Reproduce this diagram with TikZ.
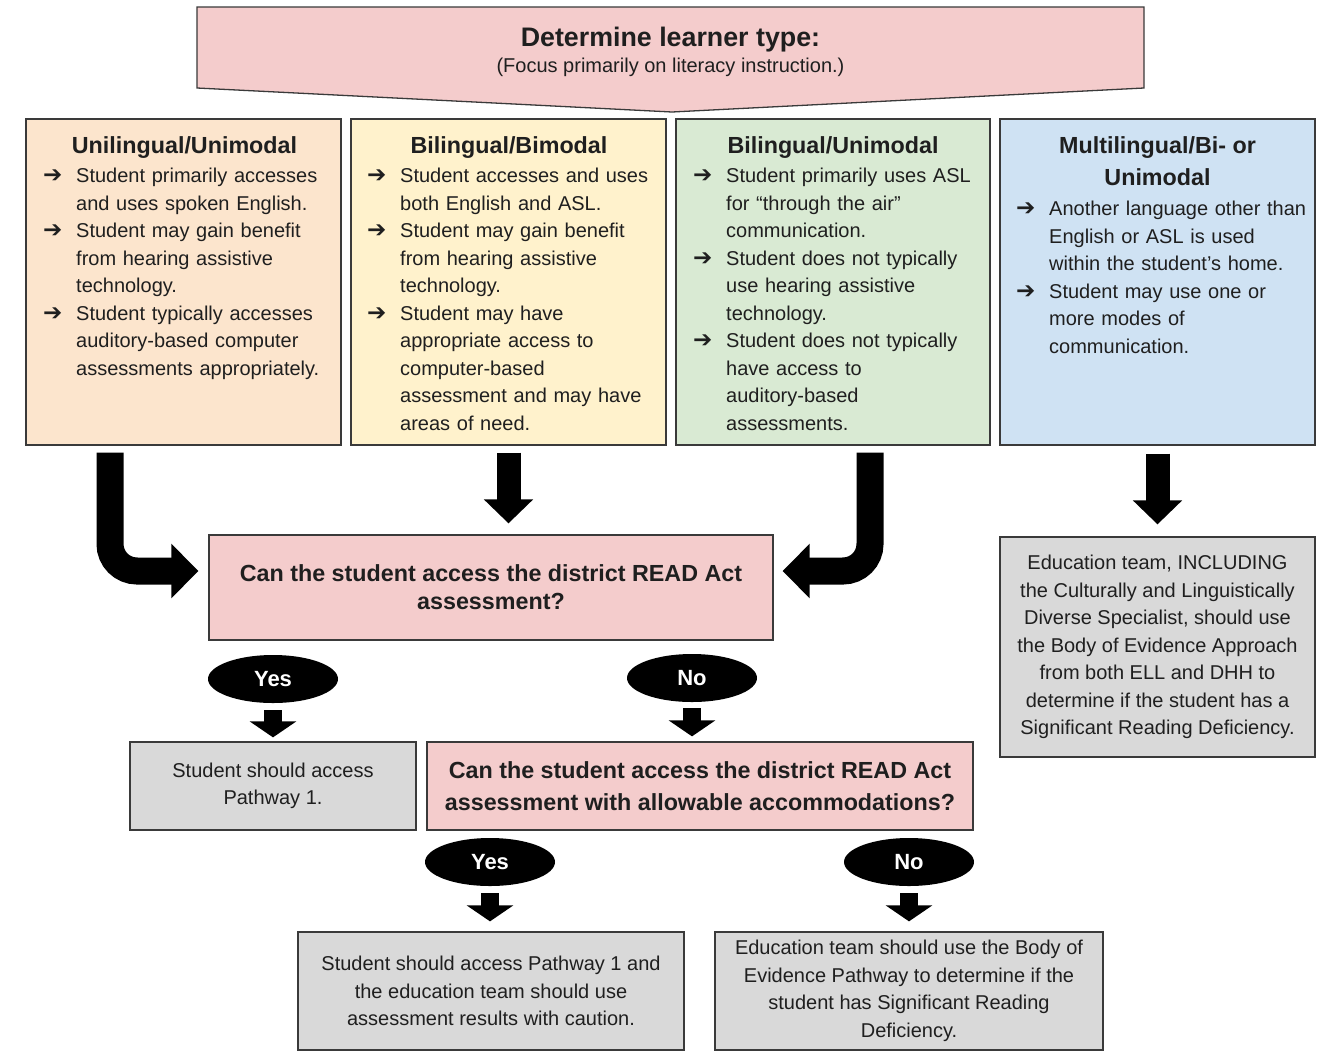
\documentclass[tikz,border=0pt]{standalone}
\usepackage{fontspec}
\setmainfont{Liberation Sans}
\newfontfamily\arrowfont{DejaVu Sans}
\usetikzlibrary{shapes.geometric,arrows.meta,calc}
\definecolor{cOrange}{HTML}{FCE5CD}
\definecolor{cYellow}{HTML}{FFF2CC}
\definecolor{cGreen}{HTML}{D9EAD3}
\definecolor{cBlue}{HTML}{CFE2F3}
\definecolor{cPink}{HTML}{F4CCCC}
\definecolor{cGray}{HTML}{D9D9D9}
\definecolor{cLine}{HTML}{3A3A3A}
\definecolor{cText}{HTML}{1F1F1F}
\newcommand\bodyfont{\fontsize{20}{27.5}\selectfont}
\newcommand\titlefont{\bfseries\fontsize{23.3}{32}\selectfont}
\newcommand\bitem[1]{\par\noindent\hangindent=33pt\hangafter=1\makebox[33pt][l]{\strut{\arrowfont\fontsize{23}{24}\selectfont ➔}}#1}
\tikzset{
  box/.style={draw=cLine, line width=1.3pt, rectangle, inner sep=0pt, text=cText},
  boxtitle/.style={anchor=base, inner sep=0pt, font=\titlefont, text=cText, align=center},
  itemlist/.style={anchor=north west, inner sep=0pt, text width=300pt, font=\bodyfont, text=cText},
  oval/.style={ellipse, fill=black, text=white, minimum width=130pt, minimum height=48pt, inner sep=0pt, font=\bfseries\fontsize{22}{26}\selectfont},
  bigarrow/.style={draw=black, line width=27pt, rounded corners=27pt, -{Triangle[width=53pt,length=27pt]}},
  straightarrow/.style={draw=black, line width=24pt, -{Triangle[width=48pt,length=24pt]}},
  smallarrow/.style={draw=black, line width=18pt, -{Triangle[width=46pt,length=16pt]}}
}
\begin{document}
\begin{tikzpicture}[x=1pt,y=-1pt]
\useasboundingbox[fill=white] (0,0) rectangle (1337,1063);

% banner
\draw[fill=cPink, draw=cLine, line width=1.3pt] (197,7) -- (1144,7) -- (1144,88) -- (672,112) -- (197,88) -- cycle;
\node[anchor=base, inner sep=0pt, text=cText, font=\bfseries\fontsize{26.8}{30}\selectfont] (bantitle) at (670.5,46) {Determine learner type:};
\node[anchor=base, inner sep=0pt, text=cText, font=\fontsize{20}{24}\selectfont] (bansub) at (670.5,72) {(Focus primarily on literacy instruction.)};

% four learner boxes
\node[box, fill=cOrange, minimum width=315pt, minimum height=326pt] (u1) at (183.5,282) {};
\node[box, fill=cYellow, minimum width=315pt, minimum height=326pt] (bb) at (508.5,282) {};
\node[box, fill=cGreen, minimum width=314pt, minimum height=326pt] (bu) at (833,282) {};
\node[box, fill=cBlue, minimum width=315pt, minimum height=326pt] (mu) at (1157.5,282) {};

\node[boxtitle] (u1t) at (184.5,153) {Unilingual/Unimodal};
\node[boxtitle] (bbt) at (509,153) {Bilingual/Bimodal};
\node[boxtitle] (but) at (833,153) {Bilingual/Unimodal};
\node[boxtitle] (mut) at (1157.5,185) {Multilingual/Bi- or\\Unimodal};

\node[itemlist] (u1l) at (43,155) {\raggedright
\bitem{Student primarily accesses\newline and uses spoken English.}%
\bitem{Student may gain benefit\newline from hearing assistive\newline technology.}%
\bitem{Student typically accesses\newline auditory-based computer\newline assessments appropriately.}\par};

\node[itemlist] (bbl) at (367,155) {\raggedright
\bitem{Student accesses and uses\newline both English and ASL.}%
\bitem{Student may gain benefit\newline from hearing assistive\newline technology.}%
\bitem{Student may have\newline appropriate access to\newline computer-based\newline assessment and may have\newline areas of need.}\par};

\node[itemlist] (bul) at (693,155) {\raggedright
\bitem{Student primarily uses ASL\newline for “through the air”\newline communication.}%
\bitem{Student does not typically\newline use hearing assistive\newline technology.}%
\bitem{Student does not typically\newline have access to\newline auditory-based\newline assessments.}\par};

\node[itemlist] (mul) at (1016,188) {\raggedright
\bitem{Another language other than\newline English or ASL is used\newline within the student’s home.}%
\bitem{Student may use one or\newline more modes of\newline communication.}\par};

% question and outcome boxes
\node[box, fill=cPink, minimum width=564pt, minimum height=105pt, align=center, font=\bfseries\fontsize{23.3}{28}\selectfont] (q1) at (491,587.5) {Can the student access the district READ Act\\assessment?};
\node[box, fill=cGray, minimum width=315pt, minimum height=220pt, align=center, font=\bodyfont] (g4) at (1157.5,647) {Education team, INCLUDING\\the Culturally and Linguistically\\Diverse Specialist, should use\\the Body of Evidence Approach\\from both ELL and DHH to\\determine if the student has a\\Significant Reading Deficiency.};
\node[box, fill=cGray, minimum width=286pt, minimum height=88pt, align=center, font=\bodyfont] (g1) at (273,786) {Student should access\\Pathway 1.};
\node[box, fill=cPink, minimum width=546pt, minimum height=88pt, align=center, font=\bfseries\fontsize{23.3}{32}\selectfont] (q2) at (700,786) {Can the student access the district READ Act\\assessment with allowable accommodations?};
\node[box, fill=cGray, minimum width=386pt, minimum height=118pt, align=center, font=\bodyfont] (g2) at (491,991) {Student should access Pathway 1 and\\the education team should use\\assessment results with caution.};
\node[box, fill=cGray, minimum width=388pt, minimum height=118pt, align=center, font=\bodyfont] (g3) at (909,991) {Education team should use the Body of\\Evidence Pathway to determine if the\\student has Significant Reading\\Deficiency.};

% ovals
\node[oval] (y1) at (273,679) {Yes};
\node[oval] (n1) at (692,678) {No};
\node[oval] (y2) at (490,862) {Yes};
\node[oval] (n2) at (909,862) {No};

% block arrows
\draw[bigarrow] ($(u1.south)+(-73.5,7)$) |- ($(q1.west)+(-10,-16.5)$);
\draw[bigarrow] ($(bu.south)+(37,7)$) |- ($(q1.east)+(9,-16.5)$);
\draw[straightarrow] ($(bb.south)+(0,7)$) -- ($(bb.south |- q1.north)+(0,-11)$);
\draw[straightarrow] ($(mu.south)+(0,8)$) -- ($(g4.north)+(0,-12)$);

\draw[smallarrow] ($(y1.south)+(0,7)$) -- ($(g1.north)+(0,-4)$);
\draw[smallarrow] ($(n1.south)+(0,6)$) -- ($(n1.south |- q2.north)+(0,-5)$);
\draw[smallarrow] ($(y2.south)+(0,7)$) -- ($(y2.south |- g2.north)+(0,-10)$);
\draw[smallarrow] ($(n2.south)+(0,7)$) -- ($(n2.south |- g3.north)+(0,-10)$);
\end{tikzpicture}
\end{document}
